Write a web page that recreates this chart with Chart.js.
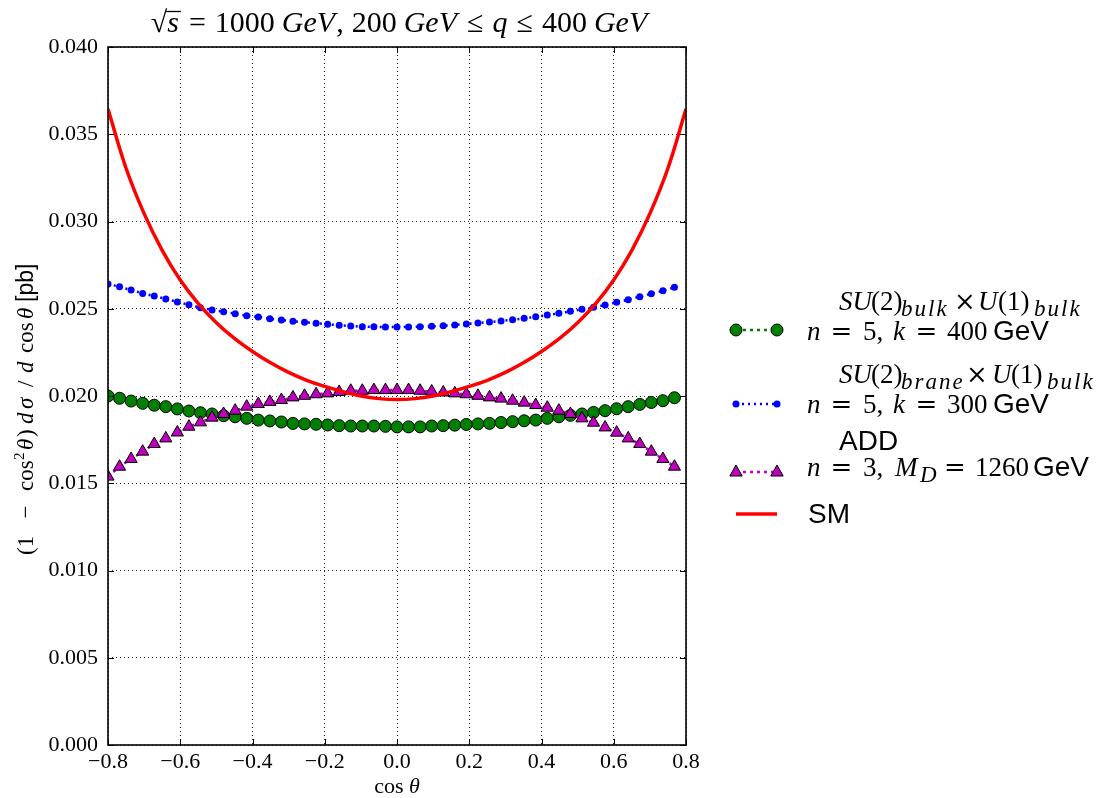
<!DOCTYPE html>
<html>
<head>
<meta charset="utf-8">
<script src="https://cdn.jsdelivr.net/npm/chart.js@4/dist/chart.umd.min.js"></script>
<style>
  html, body { margin: 0; padding: 0; background: #fff; }
  #chart { display: block; }
</style>
</head>
<body>
<canvas id="chart" width="1098" height="798"></canvas>
<script>
// cos(theta) 점 위치 (마커 데이터)
var cosTheta = [-0.800, -0.768, -0.736, -0.704, -0.672, -0.640, -0.608, -0.576, -0.544, -0.512,
                -0.480, -0.448, -0.416, -0.384, -0.352, -0.320, -0.288, -0.256, -0.224, -0.192,
                -0.160, -0.128, -0.096, -0.064, -0.032, 0.000, 0.032, 0.064, 0.096, 0.128,
                0.160, 0.192, 0.224, 0.256, 0.288, 0.320, 0.352, 0.384, 0.416, 0.448,
                0.480, 0.512, 0.544, 0.576, 0.608, 0.640, 0.672, 0.704, 0.736, 0.768];

// SU(2)bulk x U(1)bulk, n=5, k=400 GeV
var bulkValues = [0.02000, 0.01987, 0.01971, 0.01958, 0.01947, 0.01939, 0.01926, 0.01914, 0.01904, 0.01897,
                  0.01887, 0.01881, 0.01872, 0.01862, 0.01857, 0.01851, 0.01843, 0.01840, 0.01838, 0.01834,
                  0.01830, 0.01828, 0.01828, 0.01828, 0.01826, 0.01823, 0.01823, 0.01823, 0.01828, 0.01830,
                  0.01833, 0.01837, 0.01840, 0.01843, 0.01848, 0.01853, 0.01858, 0.01862, 0.01872, 0.01881,
                  0.01889, 0.01897, 0.01906, 0.01916, 0.01927, 0.01939, 0.01952, 0.01963, 0.01973, 0.01990];

// SU(2)brane x U(1)bulk, n=5, k=300 GeV
var braneValues = [0.02642, 0.02626, 0.02607, 0.02588, 0.02573, 0.02556, 0.02539, 0.02523, 0.02506, 0.02493,
                   0.02483, 0.02472, 0.02460, 0.02453, 0.02443, 0.02436, 0.02428, 0.02422, 0.02417, 0.02411,
                   0.02405, 0.02401, 0.02397, 0.02397, 0.02395, 0.02395, 0.02395, 0.02397, 0.02399, 0.02403,
                   0.02407, 0.02413, 0.02418, 0.02424, 0.02430, 0.02437, 0.02445, 0.02454, 0.02464, 0.02474,
                   0.02485, 0.02497, 0.02508, 0.02521, 0.02537, 0.02552, 0.02569, 0.02586, 0.02603, 0.02623];

// ADD, n=3, M_D=1260 GeV
var addValues = [0.01538, 0.01595, 0.01639, 0.01681, 0.01725, 0.01757, 0.01791, 0.01824, 0.01849, 0.01876,
                 0.01897, 0.01916, 0.01939, 0.01954, 0.01966, 0.01977, 0.01992, 0.02001, 0.02010, 0.02015,
                 0.02023, 0.02030, 0.02030, 0.02034, 0.02034, 0.02034, 0.02034, 0.02030, 0.02026, 0.02020,
                 0.02015, 0.02010, 0.02001, 0.01992, 0.01985, 0.01973, 0.01962, 0.01948, 0.01933, 0.01916,
                 0.01897, 0.01872, 0.01847, 0.01820, 0.01790, 0.01757, 0.01725, 0.01681, 0.01639, 0.01595];

// SM 곡선
var smCos = [-0.80, -0.75, -0.70, -0.65, -0.60, -0.55, -0.50, -0.45, -0.40, -0.35, -0.30, -0.25, -0.20, -0.15, -0.10, -0.05,
             0.00, 0.05, 0.10, 0.15, 0.20, 0.25, 0.30, 0.35, 0.40, 0.45, 0.50, 0.55, 0.60, 0.65, 0.70, 0.75, 0.80];
var smValues = [0.03645, 0.03305, 0.03045, 0.02835, 0.02665, 0.02530, 0.02420, 0.02330, 0.02255, 0.02190, 0.02135, 0.02090, 0.02055, 0.02025, 0.02000, 0.01985,
                0.01980, 0.01985, 0.02000, 0.02025, 0.02055, 0.02090, 0.02135, 0.02190, 0.02255, 0.02330, 0.02420, 0.02530, 0.02665, 0.02835, 0.03045, 0.03305, 0.03645];

// 눈금
var xTicks = [-0.8, -0.6, -0.4, -0.2, 0.0, 0.2, 0.4, 0.6, 0.8];
var yTicks = [0.000, 0.005, 0.010, 0.015, 0.020, 0.025, 0.030, 0.035, 0.040];

var SERIF = '"Liberation Serif", "DejaVu Serif", serif';
var SANS = '"Liberation Sans", "DejaVu Sans", sans-serif';
var MATH = '"DejaVu Serif", serif';

function pts(xs, ys) {
    return xs.map(function (x, i) { return { x: x, y: ys[i] }; });
}

// 순서대로 이어 그리기: [text, font, dy, gapAfter]
function rich(ctx, parts, x, y, align) {
    var w = 0;
    parts.forEach(function (p) {
        ctx.font = p[1];
        w += ctx.measureText(p[0]).width + (p[3] || 0);
    });
    var cx = align === 'center' ? x - w / 2 : x;
    var out = [];
    parts.forEach(function (p) {
        ctx.font = p[1];
        var tw = ctx.measureText(p[0]).width;
        ctx.fillText(p[0], cx, y + (p[2] || 0));
        out.push([cx, tw]);
        cx += tw + (p[3] || 0);
    });
    return out;
}

// 위치 지정해서 그리기: [x, text, font, dy, center, spacing]
function place(ctx, items, y) {
    items.forEach(function (it) {
        ctx.font = it[2];
        ctx.letterSpacing = it[5] ? it[5] + 'px' : '0px';
        var tw = ctx.measureText(it[1]).width;
        var x = it[4] ? it[0] - tw / 2 : it[0];
        ctx.fillText(it[1], x, y + (it[3] || 0));
    });
    ctx.letterSpacing = '0px';
}

var decor = {
    id: 'decor',
    beforeDraw: function (chart) {
        var ctx = chart.ctx;
        ctx.save();
        ctx.fillStyle = '#fff';
        ctx.fillRect(0, 0, chart.width, chart.height);
        ctx.restore();
    },
    afterDraw: function (chart) {
        var ctx = chart.ctx;
        var a = chart.chartArea;
        var xs = chart.scales.x, ys = chart.scales.y;
        ctx.save();
        ctx.strokeStyle = '#000';
        ctx.fillStyle = '#000';

        // 안쪽 눈금
        ctx.lineWidth = 1;
        ctx.beginPath();
        xTicks.forEach(function (v) {
            var px = Math.round(xs.getPixelForValue(v)) + 0.5;
            ctx.moveTo(px, a.bottom); ctx.lineTo(px, a.bottom - 6);
            ctx.moveTo(px, a.top); ctx.lineTo(px, a.top + 6);
        });
        yTicks.forEach(function (v) {
            var py = Math.round(ys.getPixelForValue(v)) + 0.5;
            ctx.moveTo(a.left, py); ctx.lineTo(a.left + 6, py);
            ctx.moveTo(a.right, py); ctx.lineTo(a.right - 6, py);
        });
        ctx.stroke();

        // 테두리
        ctx.lineWidth = 1.6;
        ctx.strokeRect(a.left, a.top, a.right - a.left, a.bottom - a.top);

        ctx.textBaseline = 'alphabetic';
        ctx.textAlign = 'left';

        // 제목
        var R = '30px ' + SERIF, I = 'italic 30px ' + SERIF;
        var tp = rich(ctx, [['√', R], ['s', I, 0, 10], ['=', R, 0, 9], ['1000', R, 0, 7], ['GeV', I, 0, 1], [',', R, 0, 8],
                            ['200', R, 0, 7], ['GeV', I, 0, 10], ['≤', R, 0, 9], ['q', I, 0, 9], ['≤', R, 0, 9], ['400', R, 0, 7], ['GeV', I]],
                      399, 32, 'center');
        ctx.lineWidth = 1.3;
        ctx.beginPath();
        ctx.moveTo(tp[1][0] - 2, 11.5);
        ctx.lineTo(tp[1][0] + tp[1][1] + 2, 11.5);
        ctx.stroke();

        // x축 제목
        rich(ctx, [['cos ', '22px ' + SERIF], ['θ', 'italic 22px ' + SERIF]], (a.left + a.right) / 2, 793, 'center');

        // y축 제목 (아래에서 위로)
        ctx.save();
        ctx.translate(33, 555);
        ctx.rotate(-Math.PI / 2);
        var r2 = '23px ' + SERIF, i2 = 'italic 23px ' + SERIF;
        place(ctx, [[0, '(1', r2], [43, '−', r2, 0, true], [64, 'cos', r2], [95, '2', '15px ' + SERIF, -9],
                    [105, 'θ', i2], [118, ')', r2], [131, 'd', i2], [146, 'σ', i2], [168, '/', r2],
                    [182, 'd', i2], [202, 'cos', r2], [236, 'θ', i2], [253, '[pb]', '23px ' + SANS]], 0);
        ctx.restore();

        // 범례
        var LR = '27px ' + SERIF, LI = 'italic 27px ' + SERIF, LS = '28px ' + SANS, LSub = 'italic 23px ' + SERIF;
        var EQ = '26px ' + MATH;
        place(ctx, [[839, 'SU', LI], [871, '(2)', LR], [901, 'bulk', LSub, 6, false, 2], [965, '×', EQ, 0, true],
                    [978, 'U', LI], [998, '(1)', LR], [1034, 'bulk', LSub, 6, false, 2]], 310);
        place(ctx, [[807, 'n', LI], [841.5, '=', EQ, 0, true], [863, '5,', LR], [893, 'k', LI], [926.5, '=', EQ, 0, true],
                    [947, '400', LR], [993, 'GeV', LS]], 340);
        place(ctx, [[839, 'SU', LI], [871, '(2)', LR], [901, 'brane', LSub, 6, false, 2], [977, '×', EQ, 0, true],
                    [992, 'U', LI], [1011, '(1)', LR], [1047, 'bulk', LSub, 6, false, 2]], 383);
        place(ctx, [[807, 'n', LI], [841.5, '=', EQ, 0, true], [863, '5,', LR], [893, 'k', LI], [926.5, '=', EQ, 0, true],
                    [947, '300', LR], [993, 'GeV', LS]], 413);
        place(ctx, [[839, 'ADD', LS]], 450);
        place(ctx, [[807, 'n', LI], [841.5, '=', EQ, 0, true], [863, '3,', LR], [895, 'M', LI], [920, 'D', LSub, 6, false, 1],
                    [955, '=', EQ, 0, true], [975, '1260', LR], [1033, 'GeV', LS]], 476);
        place(ctx, [[808, 'SM', LS]], 523);

        // 범례 표식
        function seg(y, color, dash, w) {
            ctx.beginPath();
            ctx.setLineDash(dash);
            ctx.strokeStyle = color;
            ctx.lineWidth = w;
            ctx.moveTo(736, y); ctx.lineTo(777, y);
            ctx.stroke();
            ctx.setLineDash([]);
        }
        seg(330, '#008000', [3, 4], 2.5);
        [736, 777].forEach(function (x) {
            ctx.beginPath(); ctx.arc(x, 330, 6, 0, Math.PI * 2);
            ctx.fillStyle = '#008000'; ctx.fill();
            ctx.strokeStyle = '#000'; ctx.lineWidth = 1; ctx.stroke();
        });
        seg(404, '#0000ff', [2, 4], 2.5);
        [736, 777].forEach(function (x) {
            ctx.beginPath(); ctx.arc(x, 404, 3.5, 0, Math.PI * 2);
            ctx.fillStyle = '#0000ff'; ctx.fill();
        });
        seg(472, '#bf00bf', [3, 4], 2.5);
        [736, 777].forEach(function (x) {
            ctx.beginPath();
            ctx.moveTo(x, 465); ctx.lineTo(x + 6.2, 476); ctx.lineTo(x - 6.2, 476); ctx.closePath();
            ctx.fillStyle = '#bf00bf'; ctx.fill();
            ctx.strokeStyle = '#000'; ctx.lineWidth = 1; ctx.stroke();
        });
        seg(514, '#ff0000', [], 3.5);

        ctx.restore();
    }
};

new Chart(document.getElementById('chart').getContext('2d'), {
    type: 'line',
    data: {
        datasets: [{
            label: 'SM',
            data: pts(smCos, smValues),
            borderColor: '#ff0000',
            borderWidth: 3.5,
            pointRadius: 0,
            tension: 0.4,
            fill: false,
            clip: 0,
            order: 0
        }, {
            label: 'ADD',
            data: pts(cosTheta, addValues),
            borderColor: '#bf00bf',
            borderWidth: 2.5,
            borderDash: [3, 4],
            pointStyle: 'triangle',
            pointRadius: 7,
            pointBackgroundColor: '#bf00bf',
            pointBorderColor: '#000',
            pointBorderWidth: 1,
            fill: false,
            clip: 0,
            order: 1
        }, {
            label: 'brane',
            data: pts(cosTheta, braneValues),
            borderColor: '#0000ff',
            borderWidth: 2.5,
            borderDash: [2, 4],
            pointRadius: 3.5,
            pointBackgroundColor: '#0000ff',
            pointBorderColor: '#0000ff',
            pointBorderWidth: 0,
            fill: false,
            clip: 0,
            order: 2
        }, {
            label: 'bulk',
            data: pts(cosTheta, bulkValues),
            borderColor: '#008000',
            borderWidth: 2.5,
            borderDash: [3, 4],
            pointRadius: 6,
            pointBackgroundColor: '#008000',
            pointBorderColor: '#000',
            pointBorderWidth: 1,
            fill: false,
            clip: 0,
            order: 3
        }]
    },
    options: {
        responsive: false,
        animation: false,
        layout: { padding: { left: 0, right: 412, top: 47, bottom: 0 } },
        plugins: {
            legend: { display: false },
            title: { display: false },
            tooltip: { enabled: false }
        },
        scales: {
            x: {
                type: 'linear',
                min: -0.8,
                max: 0.8,
                afterBuildTicks: function (s) { s.ticks = xTicks.map(function (v) { return { value: v }; }); },
                afterFit: function (s) { s.height = 53; },
                ticks: {
                    padding: 4,
                    color: '#000',
                    font: { family: SERIF, size: 22 },
                    callback: function (v) {
                        if (Math.abs(v) < 1e-9) v = 0;
                        return v.toFixed(1).replace('-', '−');
                    }
                },
                grid: { color: 'rgba(0,0,0,0.85)', lineWidth: 1, drawTicks: false },
                border: { display: false, dash: [1, 3] }
            },
            y: {
                min: 0,
                max: 0.04,
                afterBuildTicks: function (s) { s.ticks = yTicks.map(function (v) { return { value: v }; }); },
                afterFit: function (s) { s.width = 108; },
                ticks: {
                    padding: 10,
                    color: '#000',
                    font: { family: SERIF, size: 22 },
                    callback: function (v) { return v.toFixed(3); }
                },
                grid: { color: 'rgba(0,0,0,0.85)', lineWidth: 1, drawTicks: false },
                border: { display: false, dash: [1, 3] }
            }
        }
    },
    plugins: [decor]
});
</script>
</body>
</html>
